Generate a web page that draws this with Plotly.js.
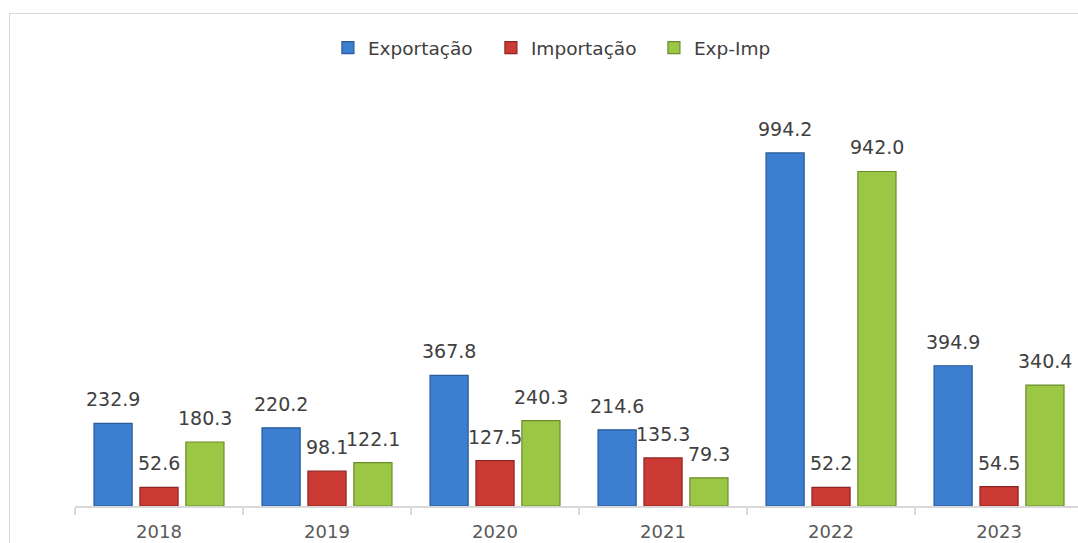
<!DOCTYPE html>
<html>
<head>
<meta charset="utf-8">
<script src="https://cdn.plot.ly/plotly-3.0.1.min.js"></script>
<style>
html,body{margin:0;padding:0;width:1078px;height:543px;overflow:hidden;background:#fff;}
#frame{position:absolute;left:9px;top:13px;width:1200px;height:700px;border:1px solid #d9d9d9;box-sizing:border-box;}
#chart{position:absolute;left:0;top:0;width:1078px;height:543px;}
</style>
</head>
<body>
<div id="frame"></div>
<div id="chart"></div>
<script>
const years = ['2018','2019','2020','2021','2022','2023'];
const exportacao = [232.9, 220.2, 367.8, 214.6, 994.2, 394.9];
const importacao = [52.6, 98.1, 127.5, 135.3, 52.2, 54.5];
const expImp = [180.3, 122.1, 240.3, 79.3, 942.0, 340.4];

const seriesNames = ['Exportação', 'Importação', 'Exp-Imp'];
const seriesValues = [exportacao, importacao, expImp];
const fillColors = ['#3c7ecf', '#cc3a36', '#9cc744'];
const lineColors = ['#285b98', '#8e2422', '#6b8c2c'];
const shifts = [-46, 0, 46];

const traces = seriesValues.map((vals, i) => ({
  type: 'bar',
  name: seriesNames[i],
  x: years,
  y: vals,
  marker: {color: fillColors[i], line: {color: lineColors[i], width: 1.2}},
  hoverinfo: 'x+y+name'
}));

const annotations = [];
seriesValues.forEach((vals, i) => {
  vals.forEach((v, j) => {
    annotations.push({
      x: j, y: v, xref: 'x', yref: 'y',
      text: v.toFixed(1), showarrow: false,
      xanchor: 'center', yanchor: 'bottom',
      xshift: shifts[i], yshift: 11,
      font: {family: 'DejaVu Sans', size: 19, color: '#404040'}
    });
  });
});

const layout = {
  width: 1078, height: 543,
  margin: {l: 75, r: 0, t: 71, b: 37},
  paper_bgcolor: 'rgba(0,0,0,0)',
  plot_bgcolor: 'rgba(0,0,0,0)',
  barmode: 'group',
  bargap: 0.18,
  bargroupgap: 0.17,
  font: {family: 'DejaVu Sans', color: '#404040'},
  showlegend: true,
  legend: {
    orientation: 'h', xref: 'container', yref: 'container',
    x: 0.531, xanchor: 'center', y: 1 - 29/543, yanchor: 'top',
    font: {family: 'DejaVu Sans', size: 18.5, color: '#404040'},
    itemwidth: 30, tracegroupgap: 0, entrywidth: 118
  },
  xaxis: {
    type: 'category',
    range: [-0.5, 5.47],
    showline: true, linecolor: '#d9d9d9', linewidth: 1.5,
    ticks: 'outside', tickson: 'boundaries', ticklen: 7, tickcolor: '#d9d9d9', tickwidth: 1.5,
    tickfont: {family: 'DejaVu Sans', size: 18, color: '#595959'},
    ticklabelstandoff: 9,
    showgrid: false, zeroline: false, fixedrange: true
  },
  yaxis: {
    range: [0, 1225],
    showticklabels: false, ticks: '', showline: false,
    showgrid: false, zeroline: false, fixedrange: true
  },
  annotations: annotations
};

Plotly.newPlot('chart', traces, layout, {displayModeBar: false, staticPlot: true});
</script>
</body>
</html>
